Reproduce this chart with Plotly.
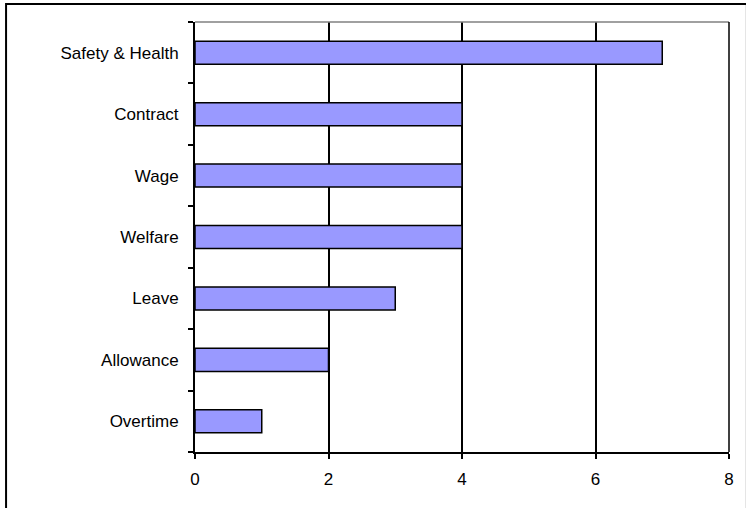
import plotly.graph_objects as go

# Number of issues raised per category
categories = ["Safety & Health", "Contract", "Wage", "Welfare", "Leave", "Allowance", "Overtime"]
counts = [7, 4, 4, 4, 3, 2, 1]
x_ticks = [0, 2, 4, 6, 8]

W, H = 746, 508
ml, mr, mt, mb = 195, 14, 22, 56
pw, ph = W - ml - mr, H - mt - mb

def px_x(p):
    return (p - ml) / pw

def px_y(p):
    return 1 - (p - mt) / ph

font = dict(family="Liberation Sans, Arial, sans-serif", size=17, color="#000000")

fig = go.Figure(
    go.Bar(
        y=categories,
        x=counts,
        orientation="h",
        marker=dict(color="#9999FF", line=dict(color="#000000", width=1.5)),
        hoverinfo="x+y",
    )
)

fig.update_layout(
    width=W,
    height=H,
    margin=dict(l=ml, r=mr, t=mt, b=mb),
    paper_bgcolor="#FFFFFF",
    plot_bgcolor="#FFFFFF",
    bargap=0.625,
    showlegend=False,
    font=font,
    xaxis=dict(
        range=[0, 8],
        tickvals=x_ticks,
        ticktext=[str(v) for v in x_ticks],
        showgrid=True,
        gridcolor="#000000",
        gridwidth=1.5,
        zeroline=False,
        showline=True,
        linecolor="#000000",
        linewidth=2,
        ticks="outside",
        ticklen=5,
        tickcolor="#000000",
        tickwidth=1.5,
        tickfont=font,
        ticklabelstandoff=6,
        fixedrange=True,
    ),
    yaxis=dict(
        type="category",
        categoryorder="array",
        categoryarray=categories[::-1],
        showgrid=False,
        zeroline=False,
        showline=True,
        linecolor="#000000",
        linewidth=2,
        ticks="outside",
        tickson="boundaries",
        ticklen=5,
        tickcolor="#000000",
        tickwidth=1.5,
        tickfont=font,
        ticklabelstandoff=11,
        fixedrange=True,
    ),
    shapes=[
        # plot area top edge (grey) and right edge
        dict(type="line", xref="paper", yref="paper", x0=0, x1=1, y0=1, y1=1,
             line=dict(color="#808080", width=1.5)),
        dict(type="line", xref="paper", yref="paper", x0=1, x1=1, y0=0, y1=1,
             line=dict(color="#000000", width=1.5)),
        # chart area frame
        dict(type="rect", xref="paper", yref="paper",
             x0=px_x(5), x1=px_x(W + 4), y0=px_y(H + 4), y1=px_y(4),
             line=dict(color="#000000", width=2), fillcolor="rgba(0,0,0,0)",
             layer="above"),
    ],
)

fig.write_html("out.html")
